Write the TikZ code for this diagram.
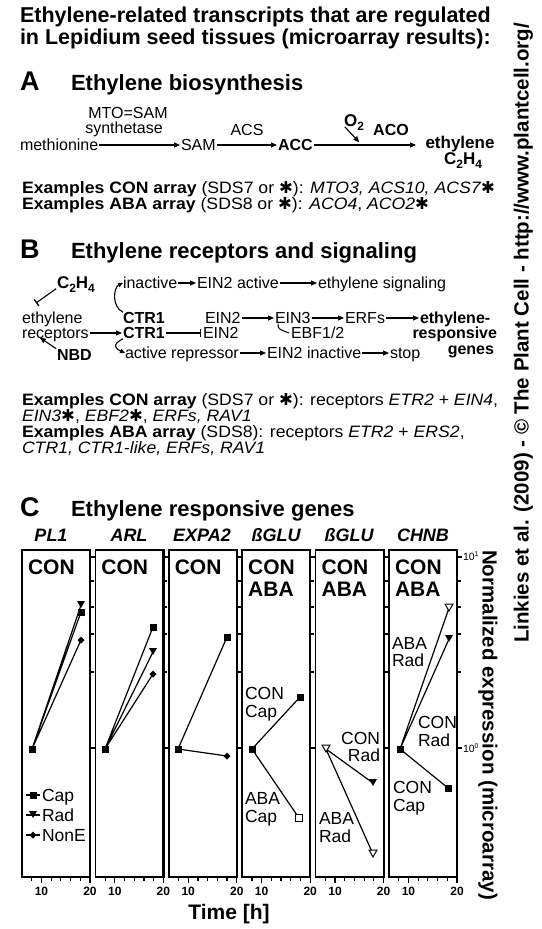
\documentclass[tikz,border=0pt]{standalone}
\usepackage{fontspec}
\setmainfont{Liberation Sans}
\newfontfamily\dejavu{DejaVu Sans}
\newfontfamily\exfont[FakeStretch=1.07]{Liberation Sans}
\usetikzlibrary{arrows.meta}
\newcommand\fsz[1]{\fontsize{#1}{#1}\selectfont}
\newcommand\starmark{{\dejavu\bfseries ✱}}
\newcommand\sbs[1]{\raisebox{-0.28em}{\fsz{12}#1}}
\newcommand\sps[1]{\raisebox{0.45em}{\fsz{7}#1}}
\newcommand\msq[2]{\fill (#1,#2) +(-3.5,-3.5) rectangle +(3.5,3.5);}
\newcommand\mosq[2]{\draw[line width=1pt,fill=white] (#1,#2) +(-3.2,-3.2) rectangle +(3.2,3.2);}
\newcommand\mtri[2]{\fill (#1,#2) +(-4,-3) -- +(4,-3) -- +(0,4) -- cycle;}
\newcommand\motri[2]{\draw[line width=1pt,fill=white] (#1,#2) +(-4,-3) -- +(4,-3) -- +(0,4) -- cycle;}
\newcommand\mdia[2]{\fill (#1,#2) +(-3.5,0) -- +(0,-3.5) -- +(3.5,0) -- +(0,3.5) -- cycle;}
\tikzset{
  lab/.style={inner sep=0pt, outer sep=0pt, text depth=0pt},
  r16/.style={lab, font=\fsz{16}, text height=11.5pt},
  b16/.style={lab, font=\bfseries\fsz{16}, text height=11.5pt},
  b17/.style={lab, font=\bfseries\fsz{17}, text height=12.2pt},
  ann/.style={lab, font=\fsz{17.5}, text height=12.6pt},
  ex/.style={lab, font=\exfont\fsz{16.5}, text height=11.9pt},
  b21/.style={lab, font=\bfseries\fsz{21.5}, text height=15.5pt},
  b22/.style={lab, font=\bfseries\fsz{22}, text height=15.8pt},
  big/.style={lab, font=\bfseries\fsz{27}, text height=19.5pt},
  gene/.style={lab, font=\bfseries\itshape\fsz{18}, text height=13pt},
  pl/.style={lab, font=\bfseries\fsz{21}, text height=15pt},
  tick/.style={lab, font=\bfseries\fsz{12}, text height=8.6pt},
  arr/.style={line width=1.1pt, -{Triangle[length=6pt,width=5pt]}, shorten <=1pt, shorten >=1pt},
  inh/.style={line width=1.1pt, -{Bar[width=8pt,line width=1.3pt]}, shorten <=1pt},
  dat/.style={line width=1.2pt},
}
\begin{document}
\begin{tikzpicture}[x=1pt,y=-1pt]
\useasboundingbox (0,0) rectangle (541,929);
\fill[white] (0,0) rectangle (541,929);
% title
\node[b21,anchor=west] (title1) at (20,15) {Ethylene-related transcripts that are regulated};
\node[b21,anchor=west] (title2) at (20,37) {in Lepidium seed tissues (microarray results):};
% ---------- A
\node[big,anchor=west] (secA) at (20,81) {A};
\node[b22,anchor=west] (titA) at (71,83) {Ethylene biosynthesis};
\node[r16,anchor=west] (meth) at (20,145) {methionine};
\node[r16,anchor=west] (sam) at (181,145) {SAM};
\node[b16,anchor=west] (acc) at (278,145) {ACC};
\node[b17] (eth) at (460,142) {ethylene};
\node[b17] (c2h4) at (463,158) {C\sbs{2}H\sbs{4}};
\node[r16] (mto) at (128,113) {MTO=SAM};
\node[r16] (synth) at (124,128) {synthetase};
\node[r16] (acs) at (247,130) {ACS};
\node[b17] (o2) at (354,120) {O\sbs{2}};
\node[b16] (aco) at (391,130) {ACO};
\coordinate (ethin) at (417,145);
\coordinate (o2end) at (360,143);
\draw[arr] (meth.east) -- (sam.west);
\draw[arr] (sam.east) -- (acc.west);
\draw[arr] (acc.east) -- (ethin);
\draw[arr] (o2.south west) -- (o2end);
\node[ex,anchor=west] (exA1) at (22,188) {\textbf{Examples CON array} (SDS7 or \starmark): \textit{MTO3, ACS10, ACS7}\starmark};
\node[ex,anchor=west] (exA2) at (22,203.5) {\textbf{Examples ABA array} (SDS8 or \starmark): \textit{ACO4}, \textit{ACO2}\starmark};
% ---------- B
\node[big,anchor=west] (secB) at (20,249) {B};
\node[b22,anchor=west] (titB) at (71,251) {Ethylene receptors and signaling};
\node[b17,anchor=west] (c2h4b) at (57,282) {C\sbs{2}H\sbs{4}};
\coordinate (c2tip) at (36,303);
\draw[inh] (c2h4b.south west) -- (c2tip);
\node[r16,anchor=west] (inact) at (123,283) {inactive};
\node[r16,anchor=west] (ein2a) at (197,283) {EIN2 active};
\node[r16,anchor=west] (ethsig) at (318,283) {ethylene signaling};
\draw[arr] (inact.east) -- (ein2a.west);
\draw[arr] (ein2a.east) -- (ethsig.west);
\node[r16,anchor=west] (ethr) at (22,318) {ethylene};
\node[b16,anchor=west] (ctr1a) at (123,318) {CTR1};
\node[r16,anchor=west] (ein2b) at (205,318) {EIN2};
\node[r16,anchor=west] (ein3) at (275,318) {EIN3};
\node[r16,anchor=west] (erfs) at (345,318) {ERFs};
\node[b16,anchor=west] (ethresp) at (420,318) {ethylene-};
\draw[arr] (ein2b.east) -- (ein3.west);
\draw[arr] (ein3.east) -- (erfs.west);
\draw[arr] (erfs.east) -- (ethresp.west);
\node[r16,anchor=west] (recep) at (22,333) {receptors};
\node[b16,anchor=west] (ctr1b) at (123,333) {CTR1};
\node[r16,anchor=west] (ein2c) at (203,333) {EIN2};
\node[r16,anchor=west] (ebf) at (291,333) {EBF1/2};
\node[b16,anchor=east] (resp) at (497,333) {responsive};
\node[b16,anchor=east] (genes) at (494,348.5) {genes};
\draw[arr] (recep.east) -- (ctr1b.west);
\draw[inh, shorten >=2pt] (ctr1b.east) -- (ein2c.west);
\draw[line width=1pt] ([xshift=3pt]ein3.south west) .. controls +(0,5) .. ([xshift=-2pt]ebf.west);
\node[b16,anchor=west] (nbd) at (57,355) {NBD};
\coordinate (nbdto) at (39,337);
\draw[arr] (nbd.north west) -- (nbdto);
\node[r16,anchor=west] (actrep) at (125,353) {active repressor};
\node[r16,anchor=west] (ein2i) at (267,353) {EIN2 inactive};
\node[r16,anchor=west] (stop) at (390,353) {stop};
\draw[arr] (actrep.east) -- (ein2i.west);
\draw[arr] (ein2i.east) -- (stop.west);
\draw[line width=1.1pt, -{Triangle[length=5pt,width=4.5pt]}] (ctr1a.north west) .. controls +(-12,-6) and +(-9,4) .. (inact.west);
\draw[line width=1.1pt, -{Triangle[length=5pt,width=4.5pt]}] (ctr1b.south west) .. controls +(-12,6) and +(-9,-4) .. (actrep.west);
\node[ex,anchor=west] (exB1) at (22,400) {\textbf{Examples CON array} (SDS7 or \starmark): receptors \textit{ETR2} + \textit{EIN4},};
\node[ex,anchor=west] (exB2) at (22,415.5) {\textit{EIN3}\starmark, \textit{EBF2}\starmark, \textit{ERFs, RAV1}};
\node[ex,anchor=west] (exB3) at (22,432) {\textbf{Examples ABA array} (SDS8): receptors \textit{ETR2} + \textit{ERS2},};
\node[ex,anchor=west] (exB4) at (22,447.5) {\textit{CTR1, CTR1-like, ERFs, RAV1}};
% ---------- C
\node[big,anchor=west] (secC) at (20,507) {C};
\node[b22,anchor=west] (titC) at (71,509) {Ethylene responsive genes};
\foreach \i in {0,...,5}{
  \pgfmathsetmacro\L{22+73.4*\i}
  \pgfmathsetmacro\R{\L+68}
  \draw[line width=1.5pt] (\L,550) rectangle (\R,877);
  \draw[line width=2.2pt] (\R,549) -- (\R,878);
  \draw[line width=2pt] (\L,877) -- (\R,877);
  \foreach \yy in {581,607,634,672} \draw[line width=1.2pt] (\R,\yy) -- ++(4,0);
  \foreach \yy in {557,748} \draw[line width=1.2pt] (\R,\yy) -- ++(5,0);
  \foreach \t in {8,12,14,16,18} \draw[line width=1.2pt] ({\L+(\t-6)/14*68},877) -- ++(0,4);
  \foreach \t in {10,20} \draw[line width=1.2pt] ({\L+(\t-6)/14*68},877) -- ++(0,6);
  \node[tick] (ta\i) at ({\L+4/14*68},891) {10};
  \node[tick] (tb\i) at (\R,891) {20};
  \node[pl,anchor=west] (con\i) at ({\L+6},567) {CON};
}
\foreach \i in {3,4,5} \node[pl,anchor=west] (aba\i) at ({28+73.4*\i},589) {ABA};
\node[gene] (g1) at (51,535) {PL1};
\node[gene] (g2) at (129,535) {ARL};
\node[gene] (g3) at (202,535) {EXPA2};
\node[gene] (g4) at (276,535) {ßGLU};
\node[gene] (g5) at (349,535) {ßGLU};
\node[gene] (g6) at (423,535) {CHNB};
\node[lab,font=\fsz{10.5},text height=7.5pt,anchor=west] (e1) at (463,557) {10\sps{1}};
\node[lab,font=\fsz{10.5},text height=7.5pt,anchor=west] (e0) at (463,749) {10\sps{0}};
% panel 1
\draw[dat] (32,749) -- (81,612) (32,749) -- (81,605) (32,749) -- (81,640);
\msq{32}{749}\msq{81}{612}\mtri{81}{604}\mdia{81}{640}
\draw[dat] (26,795) -- (40,795) (26,815) -- (40,815) (26,835) -- (40,835);
\msq{33}{795}\mtri{33}{814}\mdia{33}{835}
\node[ann,anchor=west] (lcap) at (42,795) {Cap};
\node[ann,anchor=west] (lrad) at (42,815) {Rad};
\node[ann,anchor=west] (lnon) at (42,835) {NonE};
% panel 2
\draw[dat] (105,749) -- (153,627) (105,749) -- (153,652) (105,749) -- (153,674);
\msq{105}{749}\msq{153}{627}\mtri{153}{651}\mdia{153}{674}
% panel 3
\draw[dat] (178,749) -- (227,637) (178,749) -- (227,756);
\msq{178}{749}\msq{227}{637}\mdia{227}{756}
% panel 4
\draw[dat] (252,749) -- (300,697) (252,749) -- (299,818);
\msq{252}{749}\msq{300}{697}\mosq{299}{818}
\node[ann,anchor=west] (p4a) at (245,693) {CON};
\node[ann,anchor=west] (p4b) at (245,711) {Cap};
\node[ann,anchor=west] (p4c) at (245,798) {ABA};
\node[ann,anchor=west] (p4d) at (245,816) {Cap};
% panel 5
\draw[dat] (326,749) -- (373,783) (326,749) -- (373,854);
\motri{326}{748}\mtri{373}{782}\motri{373}{853}
\node[ann,anchor=east] (p5a) at (380,738) {CON};
\node[ann,anchor=east] (p5b) at (380,755) {Rad};
\node[ann,anchor=west] (p5c) at (319,818) {ABA};
\node[ann,anchor=west] (p5d) at (319,836) {Rad};
% panel 6
\draw[dat] (400,749) -- (448,788) (400,749) -- (449,608) (400,749) -- (449,639);
\msq{400}{749}\msq{448}{788}\motri{449}{607}\mtri{449}{638}
\node[ann,anchor=west] (p6a) at (392,643) {ABA};
\node[ann,anchor=west] (p6b) at (392,660) {Rad};
\node[ann,anchor=west] (p6c) at (418,722) {CON};
\node[ann,anchor=west] (p6d) at (418,740) {Rad};
\node[ann,anchor=west] (p6e) at (393,787) {CON};
\node[ann,anchor=west] (p6f) at (393,805) {Cap};
% axis labels
\node[lab,font=\bfseries\fsz{21},text height=15pt] (time) at (229,912) {Time [h]};
\node[lab,font=\bfseries\fsz{20.5},text height=15pt,rotate=-90] (ylab) at (490,725) {Normalized expression (microarray)};
\node[lab,font=\bfseries\fsz{20.5},text height=15pt,rotate=90] (copy) at (521,333) {Linkies et al. (2009) - © The Plant Cell - http://www.plantcell.org/};
\end{tikzpicture}
\end{document}
